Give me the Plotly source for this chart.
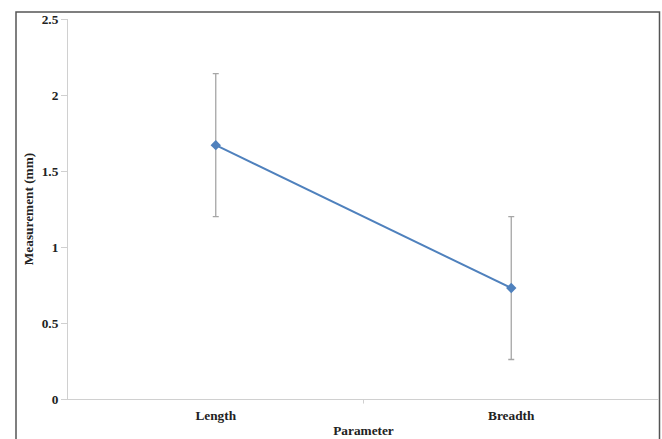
import plotly.graph_objects as go

# Mean measurements with standard deviation
parameters = ["Length", "Breadth"]
means = [1.67, 0.73]
std_dev = [0.47, 0.47]

W, H = 662, 439
L, R, T, B = 68, 3, 19, 40
pw, ph = W - L - R, H - T - B

fig = go.Figure(
    go.Scatter(
        x=[0, 1],
        y=means,
        mode="lines+markers",
        line=dict(color="#4F81BD", width=2),
        marker=dict(symbol="diamond", size=8, color="#4F81BD"),
        error_y=dict(type="data", array=std_dev, visible=True,
                     color="#A6A6A6", thickness=1.3, width=3),
        showlegend=False,
    )
)

font = dict(family="Liberation Serif", size=13.3, color="#222222")

fig.update_layout(
    width=W, height=H,
    margin=dict(l=L, r=R, t=T, b=B),
    paper_bgcolor="white",
    plot_bgcolor="white",
    font=font,
    xaxis=dict(
        range=[-0.5, 1.5],
        tickmode="array",
        tickvals=[0, 1],
        ticktext=["<b>%s</b>" % p for p in parameters],
        showgrid=False,
        zeroline=False,
        showline=True,
        linecolor="#D0D0D0",
        linewidth=1,
        ticks="outside",
        ticklen=4,
        tickcolor="rgba(0,0,0,0)",
        title=dict(text="<b>Parameter</b>", standoff=3, font=font),
    ),
    yaxis=dict(
        range=[0, 2.5],
        tickvals=[0, 0.5, 1, 1.5, 2, 2.5],
        ticktext=["<b>0</b>", "<b>0.5</b>", "<b>1</b>", "<b>1.5</b>", "<b>2</b>", "<b>2.5</b>"],
        showgrid=False,
        zeroline=False,
        showline=True,
        linecolor="#D0D0D0",
        linewidth=1,
        ticks="outside",
        ticklen=6,
        tickcolor="#D0D0D0",
        title=dict(text="<b>Measurement (mm)</b>", standoff=5, font=font),
    ),
    shapes=[
        # category boundary tick on the x axis
        dict(type="line", xref="x", yref="paper", x0=0.5, x1=0.5, y0=0, y1=-0.012,
             line=dict(color="#D0D0D0", width=1)),
        # outer frame around the chart
        dict(type="rect", xref="paper", yref="paper",
             x0=(16 - L) / pw, x1=(659.5 - L) / pw,
             y0=-0.5, y1=(H - B - 12) / ph,
             line=dict(color="#555555", width=1.5), fillcolor="rgba(0,0,0,0)",
             layer="below"),
    ],
)

fig.write_html("out.html")
